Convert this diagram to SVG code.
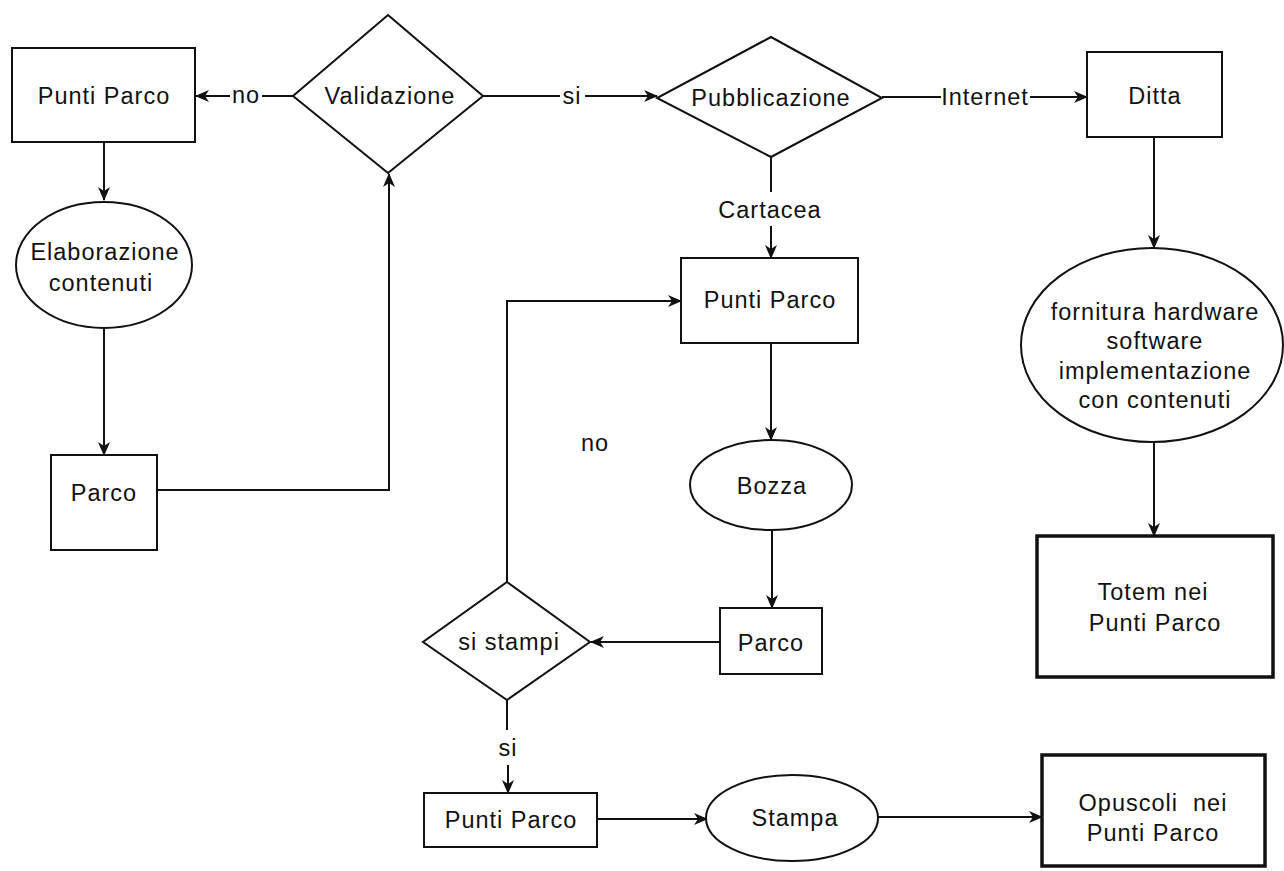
<svg xmlns="http://www.w3.org/2000/svg" width="1284" height="871" viewBox="0 0 1284 871">
<defs>
<style>
.n{fill:#fff;stroke:#111;stroke-width:2}
.t{fill:#fff;stroke:#111;stroke-width:3.5}
.c{fill:none;stroke:#111;stroke-width:2}
text{font-family:"Liberation Sans",Arial,sans-serif;font-size:23.5px;letter-spacing:1px;fill:#111;text-anchor:middle;dominant-baseline:central}
.pre{white-space:pre}
</style>
<marker id="a" viewBox="0 0 14 12" refX="13" refY="6" markerWidth="14" markerHeight="12" markerUnits="userSpaceOnUse" orient="auto">
<path d="M0,0 L14,6 L0,12 L4,6 Z" fill="#111"/>
</marker>
</defs>
<rect width="1284" height="871" fill="#fff"/>
<g id="connectors">
<path class="c" d="M293,96 H262"/><path class="c" d="M230,96 H196" marker-end="url(#a)"/>
<path class="c" d="M104,142 V200" marker-end="url(#a)"/>
<path class="c" d="M104,328 V455" marker-end="url(#a)"/>
<path class="c" d="M157,490 H389 V174" marker-end="url(#a)"/>
<path class="c" d="M483,96 H560"/><path class="c" d="M585,96 H657" marker-end="url(#a)"/>
<path class="c" d="M882,97 H941"/><path class="c" d="M1030,97 H1087" marker-end="url(#a)"/>
<path class="c" d="M1154,137 V248" marker-end="url(#a)"/>
<path class="c" d="M1154,442 V536" marker-end="url(#a)"/>
<path class="c" d="M771,157 V192"/><path class="c" d="M771,226 V258" marker-end="url(#a)"/>
<path class="c" d="M771,343 V440" marker-end="url(#a)"/>
<path class="c" d="M772,530 V608" marker-end="url(#a)"/>
<path class="c" d="M720,642 H591" marker-end="url(#a)"/>
<path class="c" d="M507,582 V301 H681" marker-end="url(#a)"/>
<path class="c" d="M507,700 V730"/><path class="c" d="M508,765 V793" marker-end="url(#a)"/>
<path class="c" d="M597,819 H707" marker-end="url(#a)"/>
<path class="c" d="M878,817 H1042" marker-end="url(#a)"/>
<text x="246" y="95">no</text>
<text x="572" y="96">si</text>
<text x="985" y="97">Internet</text>
<text x="770" y="210">Cartacea</text>
<text x="595" y="443">no</text>
<text x="508" y="748">si</text>
</g>
<g id="puntiparco1"><rect class="n" x="12" y="48" width="183" height="94"/><text x="104" y="96">Punti Parco</text></g>
<g id="validazione"><polygon class="n" points="388,15 483,96 388,173 293,96"/><text x="390" y="96">Validazione</text></g>
<g id="pubblicazione"><polygon class="n" points="771,37 882,98 771,157 657,98"/><text x="771" y="98">Pubblicazione</text></g>
<g id="ditta"><rect class="n" x="1087" y="52" width="135" height="85"/><text x="1155" y="96">Ditta</text></g>
<g id="elaborazione"><ellipse class="n" cx="104" cy="265" rx="88" ry="63"/><text x="105" y="252">Elaborazione</text><text x="101" y="283">contenuti</text></g>
<g id="parco1"><rect class="n" x="51" y="455" width="106" height="95"/><text x="104" y="493">Parco</text></g>
<g id="fornitura"><ellipse class="n" cx="1152" cy="345" rx="131" ry="97"/><text x="1155" y="312">fornitura hardware</text><text x="1155" y="341">software</text><text x="1155" y="371">implementazione</text><text x="1155" y="400">con contenuti</text></g>
<g id="totem"><rect class="t" x="1037" y="536" width="236" height="141"/><text x="1153" y="592">Totem nei</text><text x="1155" y="623">Punti Parco</text></g>
<g id="puntiparco2"><rect class="n" x="681" y="258" width="177" height="85"/><text x="770" y="300">Punti Parco</text></g>
<g id="bozza"><ellipse class="n" cx="771" cy="485" rx="81" ry="45"/><text x="772" y="486">Bozza</text></g>
<g id="parco2"><rect class="n" x="720" y="608" width="102" height="66"/><text x="771" y="643">Parco</text></g>
<g id="sistampi"><polygon class="n" points="507,582 590,642 507,700 423,642"/><text x="509" y="642">si stampi</text></g>
<g id="puntiparco3"><rect class="n" x="424" y="793" width="173" height="54"/><text x="511" y="820">Punti Parco</text></g>
<g id="stampa"><ellipse class="n" cx="792" cy="818" rx="86" ry="43"/><text x="795" y="818">Stampa</text></g>
<g id="opuscoli"><rect class="t" x="1042" y="755" width="223" height="111"/><text class="pre" x="1153" y="803">Opuscoli  nei</text><text x="1153" y="833">Punti Parco</text></g>
</svg>
